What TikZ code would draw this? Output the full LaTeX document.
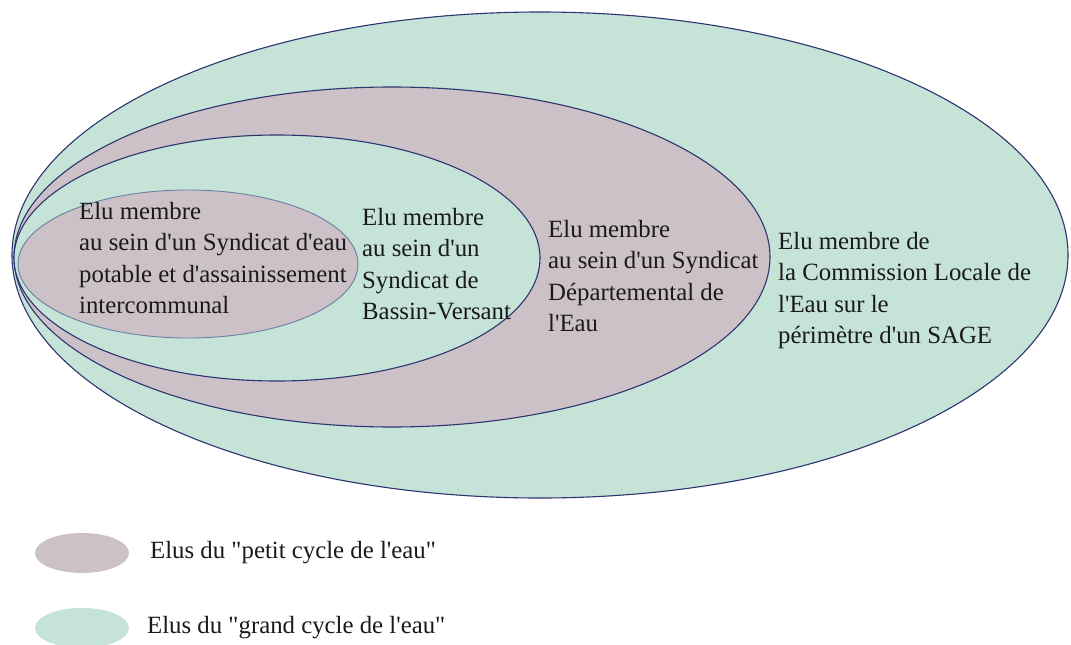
\documentclass[tikz,border=0pt]{standalone}
\usepackage{fontspec}
\setmainfont{Liberation Serif}[Ligatures=TeXOff]
\definecolor{grn}{HTML}{C5E3D6}
\definecolor{prp}{HTML}{CBC1C7}
\definecolor{navy}{HTML}{2E3470}
\definecolor{lightb}{HTML}{6A80A8}
\definecolor{txt}{HTML}{1A1A1A}
\tikzset{
  ring/.style={line width=1.1pt, draw=navy},
  lbl/.style={anchor=north west, align=left, inner sep=0pt, text=txt,
    font=\fontsize{24.8}{31.5}\selectfont},
}
\begin{document}
\begin{tikzpicture}[x=1pt,y=-1pt]
\useasboundingbox (0,0) rectangle (1071,645);
\fill[white] (0,0) rectangle (1071,645);
\draw[ring, fill=grn] (540,255) ellipse [x radius=528, y radius=243];
\draw[ring, fill=prp] (392,257) ellipse [x radius=378, y radius=170];
\draw[ring, fill=grn] (277,258) ellipse [x radius=263, y radius=123];
\draw[line width=0.9pt, draw=lightb, fill=prp] (188,264) ellipse [x radius=170, y radius=74];
\node[lbl] (t1) at (79,202) {Elu membre\\au sein d'un Syndicat d'eau\\potable et d'assainissement\\intercommunal};
\node[lbl] (t2) at (362,208) {Elu membre\\au sein d'un\\Syndicat de\\Bassin-Versant};
\node[lbl] (t3) at (548,220) {Elu membre\\au sein d'un Syndicat\\Départemental de\\l'Eau};
\node[lbl] (t4) at (778,232) {Elu membre de\\la Commission Locale de\\l'Eau sur le\\périmètre d'un SAGE};
\fill[prp] (82,553) ellipse [x radius=47, y radius=20];
\fill[grn] (82,628) ellipse [x radius=47, y radius=20];
\node[lbl, anchor=west] (l1) at (150,553) {Elus du "petit cycle de l'eau"};
\node[lbl, anchor=west] (l2) at (147,628) {Elus du "grand cycle de l'eau"};
\end{tikzpicture}
\end{document}
